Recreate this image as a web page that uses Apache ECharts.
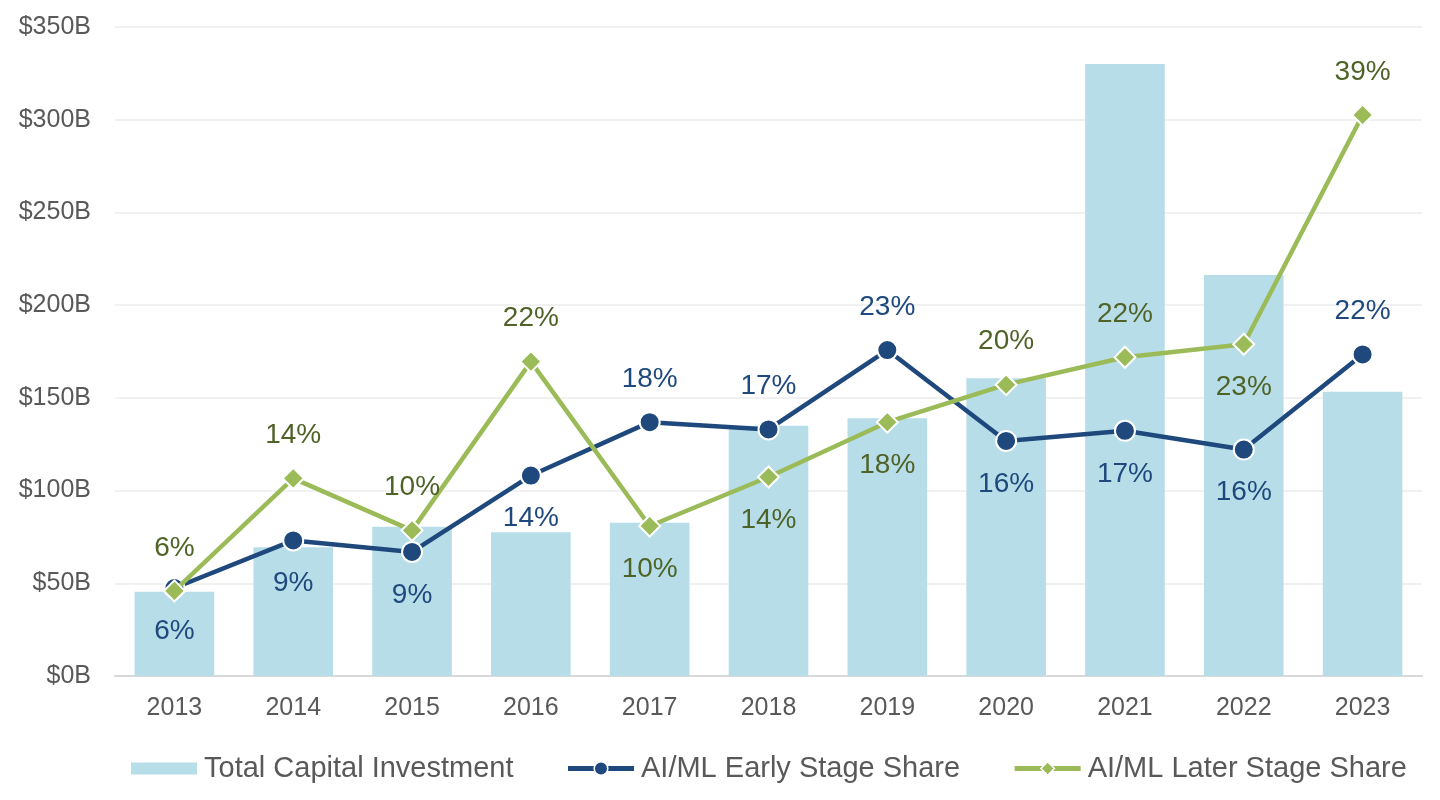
<!DOCTYPE html>
<html><head><meta charset="utf-8">
<script src="https://cdn.jsdelivr.net/npm/echarts@6/dist/echarts.min.js"></script>
<style>html,body{margin:0;padding:0;background:#fff}#c{width:1440px;height:800px}</style>
</head><body><div id="c"></div>
<script>
const years = ['2013','2014','2015','2016','2017','2018','2019','2020','2021','2022','2023'];
const totalInvestment = [45.5, 69.4, 80.5, 77.5, 82.7, 135.0, 139.0, 160.6, 330.0, 216.3, 153.3];
const earlyShare = [6.1, 9.4, 8.6, 13.9, 17.6, 17.1, 22.6, 16.3, 17.0, 15.7, 22.3];
const laterShare = [5.9, 13.7, 10.1, 21.8, 10.4, 13.8, 17.6, 20.2, 22.1, 23.0, 38.9];
const earlyLabelSide = ['below','below','below','below','above','above','above','below','below','below','above'];
const laterLabelSide = ['above','above','above','above','below','below','below','above','above','below','above'];

const FONT = 'Liberation Sans, Arial, sans-serif';
const LABEL_OFF = 43;

function items(vals, sides) {
  return vals.map((v, i) => ({
    value: v,
    label: { offset: [0, sides[i] === 'above' ? -LABEL_OFF : LABEL_OFF] }
  }));
}

const chart = echarts.init(document.getElementById('c'), null, { renderer: 'canvas' });
chart.setOption({
  animation: false,
  backgroundColor: '#ffffff',
  textStyle: { fontFamily: FONT },
  grid: { left: 115, right: 18, top: 27, bottom: 124, containLabel: false },
  legend: {
    left: 126, top: 749,
    itemWidth: 66, itemHeight: 17, itemGap: 52,
    textStyle: { fontSize: 29, color: '#595959', fontFamily: FONT, padding: [0, 0, 0, 2] },
    data: [
      { name: 'Total Capital Investment', icon: 'path://M0,0H66V12H0Z' },
      { name: 'AI/ML Early Stage Share', lineStyle: { width: 5 }, itemStyle: { borderWidth: 1.5 } },
      { name: 'AI/ML Later Stage Share', lineStyle: { width: 5 }, itemStyle: { borderWidth: 1.5 } }
    ]
  },
  xAxis: {
    type: 'category',
    data: years,
    axisLine: { lineStyle: { color: '#d9d9d9', width: 2 } },
    axisTick: { show: false },
    axisLabel: { fontSize: 25, color: '#595959', margin: 20, fontFamily: FONT }
  },
  yAxis: [
    {
      type: 'value', min: 0, max: 350, interval: 50,
      axisLine: { show: false }, axisTick: { show: false },
      axisLabel: { fontSize: 25, color: '#595959', margin: 24, fontFamily: FONT, formatter: v => '$' + v + 'B' },
      splitLine: { lineStyle: { color: '#ececec', width: 1.5 } }
    },
    {
      type: 'value', min: 0, max: 45, show: false,
      splitLine: { show: false }
    }
  ],
  series: [
    {
      name: 'Total Capital Investment',
      type: 'bar',
      data: totalInvestment,
      barWidth: '67%',
      itemStyle: { color: '#b7dee8' },
      z: 1
    },
    {
      name: 'AI/ML Early Stage Share',
      type: 'line',
      yAxisIndex: 1,
      data: items(earlyShare, earlyLabelSide),
      symbol: 'circle', symbolSize: 20,
      lineStyle: { color: '#1f497d', width: 4.5 },
      itemStyle: { color: '#1f497d', borderColor: '#ffffff', borderWidth: 2 },
      label: {
        show: true, position: 'inside', fontSize: 28, color: '#1f497d', fontFamily: FONT,
        formatter: p => Math.round(p.value) + '%'
      },
      z: 3
    },
    {
      name: 'AI/ML Later Stage Share',
      type: 'line',
      yAxisIndex: 1,
      data: items(laterShare, laterLabelSide),
      symbol: 'diamond', symbolSize: 21,
      lineStyle: { color: '#9bbb59', width: 4.5 },
      itemStyle: { color: '#9bbb59', borderColor: '#ffffff', borderWidth: 2 },
      label: {
        show: true, position: 'inside', fontSize: 28, color: '#4f6228', fontFamily: FONT,
        formatter: p => Math.round(p.value) + '%'
      },
      z: 4
    }
  ]
});
</script>
</body></html>
